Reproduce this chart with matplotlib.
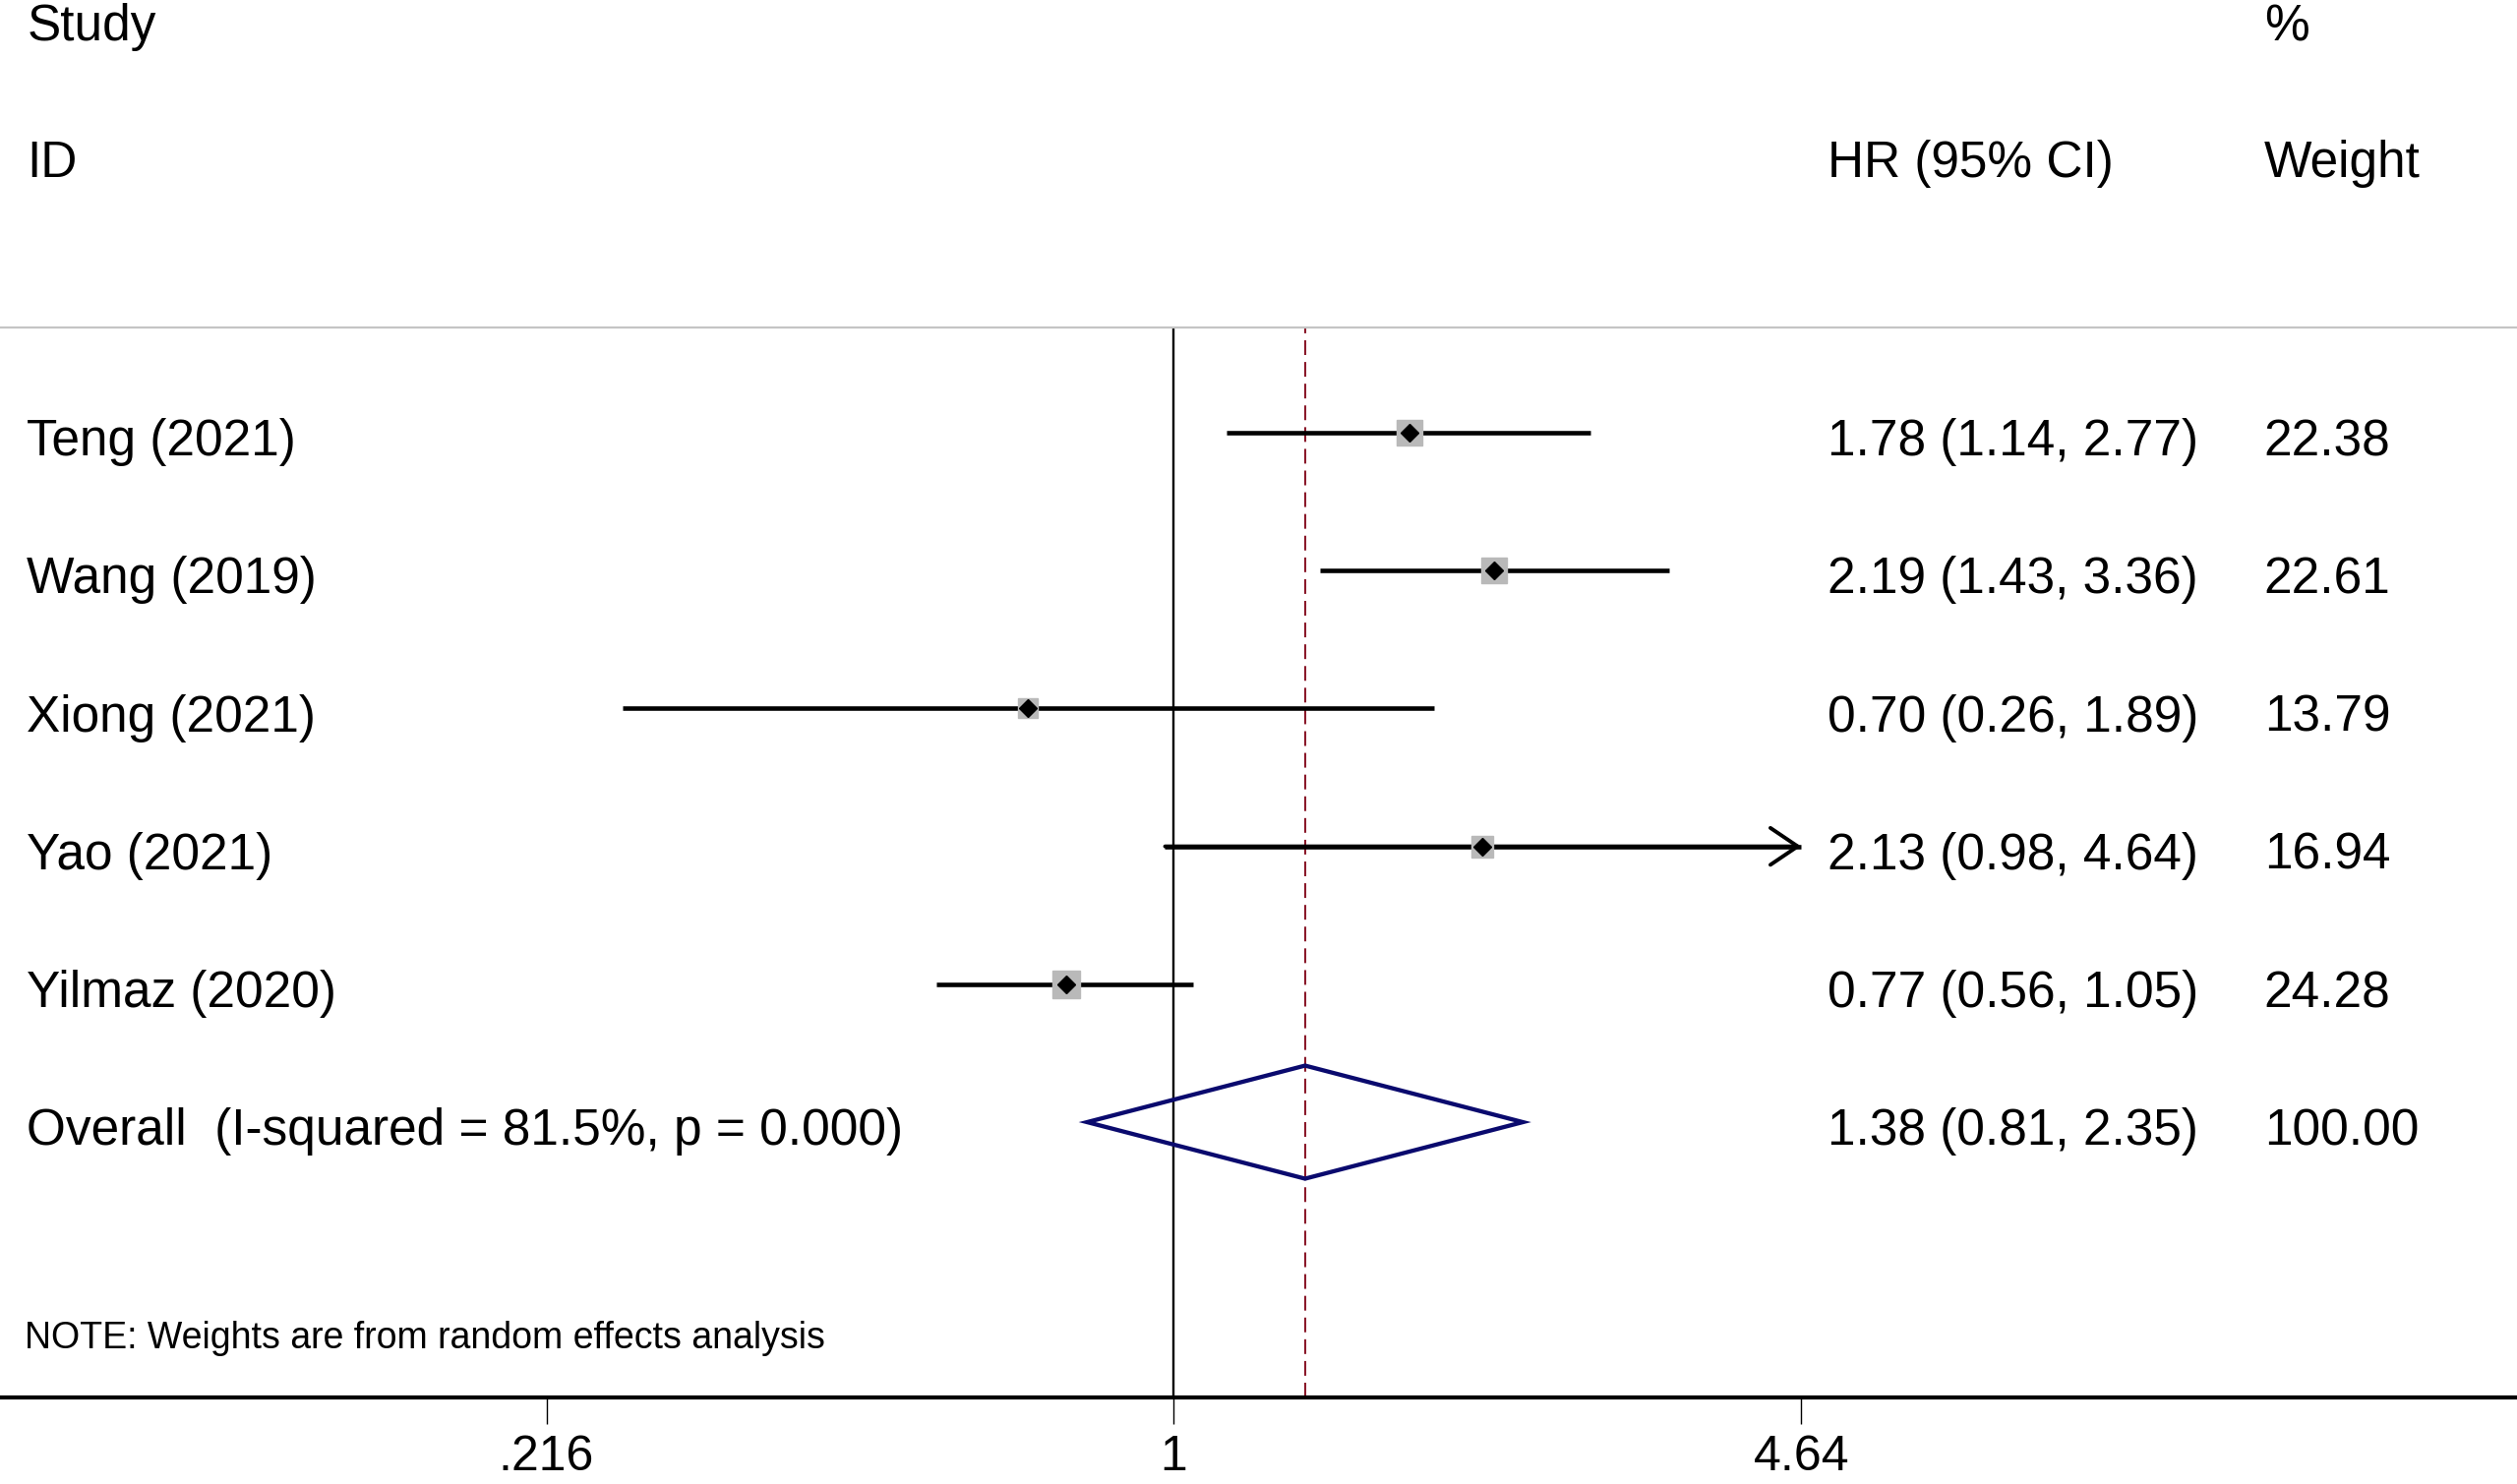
#!/usr/bin/env python
# coding: utf-8

r"""Forest plot : HR (95% CI) per study, random effects"""

import numpy as np
from matplotlib import pyplot as plt
from matplotlib.ticker import FixedLocator, NullLocator

plt.rcParams['font.family'] = ['Liberation Sans', 'DejaVu Sans']

studies = ["Teng (2021)", "Wang (2019)", "Xiong (2021)",
           "Yao (2021)", "Yilmaz (2020)"]
hr = [1.78, 2.19, 0.70, 2.13, 0.77]
ci_low = [1.14, 1.43, 0.26, 0.98, 0.56]
ci_high = [2.77, 3.36, 1.89, 4.64, 1.05]
weights = [22.38, 22.61, 13.79, 16.94, 24.28]

overall_label = "Overall  (I-squared = 81.5%, p = 0.000)"
overall_hr = 1.38
overall_low = 0.81
overall_high = 2.35
overall_weight = 100.00

tick_values = [0.216, 1, 4.64]
tick_labels = [".216", "1", "4.64"]
note = "NOTE: Weights are from random effects analysis"

# axis range : last tick gets the arrow
x_min, x_max = 0.0568, 26.7

fig = plt.figure(figsize=(25.59, 15.09), dpi=100)
ax = fig.add_axes([0.0, 0.0583, 1.0, 0.721])
ax.set_xscale('log')
ax.set_xlim(x_min, x_max)
ax.set_ylim(6.997, -0.763)

for side in ['left', 'right']:
    ax.spines[side].set_visible(False)
ax.spines['top'].set_color('#c4c4c4')
ax.spines['top'].set_linewidth(1.6)
ax.spines['bottom'].set_linewidth(3.0)

ax.xaxis.set_major_locator(FixedLocator(tick_values))
ax.xaxis.set_minor_locator(NullLocator())
ax.set_xticklabels(tick_labels)
ax.tick_params(axis='x', which='major', length=19.4, width=1.0,
               labelsize=36, pad=8)
ax.set_yticks([])

ax.axvline(1, color='black', lw=1.7, zorder=1)
ax.axvline(overall_hr, color='#8b1a2b', lw=1.5,
           linestyle=(0, (7.2, 3.4)), zorder=1)

text_size = 37
text_shift = 0.03
col_study = 0.0107
col_hr = 0.726
col_weight = 0.8995
ci_lw = 3.3

rows = np.arange(len(studies))
for i, name in enumerate(studies):
    y = rows[i]
    top = min(ci_high[i], tick_values[-1])
    ax.plot([ci_low[i], top], [y, y], color='black', lw=ci_lw,
            solid_capstyle='butt', zorder=2)
    if ci_high[i] >= tick_values[-1]:
        ax.annotate('', xy=(top, y), xytext=(ci_low[i], y),
                    arrowprops=dict(arrowstyle='->,head_length=2.0,'
                                               'head_width=1.35',
                                    color='black', lw=2.8,
                                    shrinkA=0, shrinkB=0),
                    zorder=2)
    ax.plot(hr[i], y, marker='s', ms=3.95 * np.sqrt(weights[i]),
            color='#b9b9b9', mec='#b9b9b9', zorder=3)
    ax.plot(hr[i], y, marker='D', ms=9, color='black', zorder=4)

    ty = y + text_shift
    ax.text(col_study, ty, name, transform=ax.get_yaxis_transform(),
            fontsize=text_size, va='center_baseline', ha='left')
    ax.text(col_hr, ty, "%.2f (%.2f, %.2f)" % (hr[i], ci_low[i], ci_high[i]),
            transform=ax.get_yaxis_transform(),
            fontsize=text_size, va='center_baseline', ha='left')
    ax.text(col_weight, ty, "%.2f" % weights[i],
            transform=ax.get_yaxis_transform(),
            fontsize=text_size, va='center_baseline', ha='left')

# pooled estimate
y_all = len(studies)
half_h = 0.41
ax.fill([overall_low, overall_hr, overall_high, overall_hr],
        [y_all, y_all - half_h, y_all, y_all + half_h],
        facecolor='none', edgecolor='#0a0a6e', lw=3.1, zorder=3)
ty = y_all + text_shift
ax.text(col_study, ty, overall_label, transform=ax.get_yaxis_transform(),
        fontsize=text_size, va='center_baseline', ha='left')
ax.text(col_hr, ty, "%.2f (%.2f, %.2f)" % (overall_hr, overall_low,
                                           overall_high),
        transform=ax.get_yaxis_transform(),
        fontsize=text_size, va='center_baseline', ha='left')
ax.text(col_weight, ty, "%.2f" % overall_weight,
        transform=ax.get_yaxis_transform(),
        fontsize=text_size, va='center_baseline', ha='left')

# headers
header_rows = [-2.98, -1.99]
ax.text(col_study, header_rows[0], "Study", transform=ax.get_yaxis_transform(),
        fontsize=text_size, va='center_baseline', ha='left', clip_on=False)
ax.text(col_study, header_rows[1], "ID", transform=ax.get_yaxis_transform(),
        fontsize=text_size, va='center_baseline', ha='left', clip_on=False)
ax.text(col_hr, header_rows[1], "HR (95% CI)",
        transform=ax.get_yaxis_transform(),
        fontsize=text_size, va='center_baseline', ha='left', clip_on=False)
ax.text(col_weight, header_rows[0], "%", transform=ax.get_yaxis_transform(),
        fontsize=text_size, va='center_baseline', ha='left', clip_on=False)
ax.text(col_weight, header_rows[1], "Weight",
        transform=ax.get_yaxis_transform(),
        fontsize=text_size, va='center_baseline', ha='left', clip_on=False)

ax.text(col_study - 0.001, 6.54, note, transform=ax.get_yaxis_transform(),
        fontsize=27, va='center_baseline', ha='left')

fig.savefig('out.png', dpi=100)
